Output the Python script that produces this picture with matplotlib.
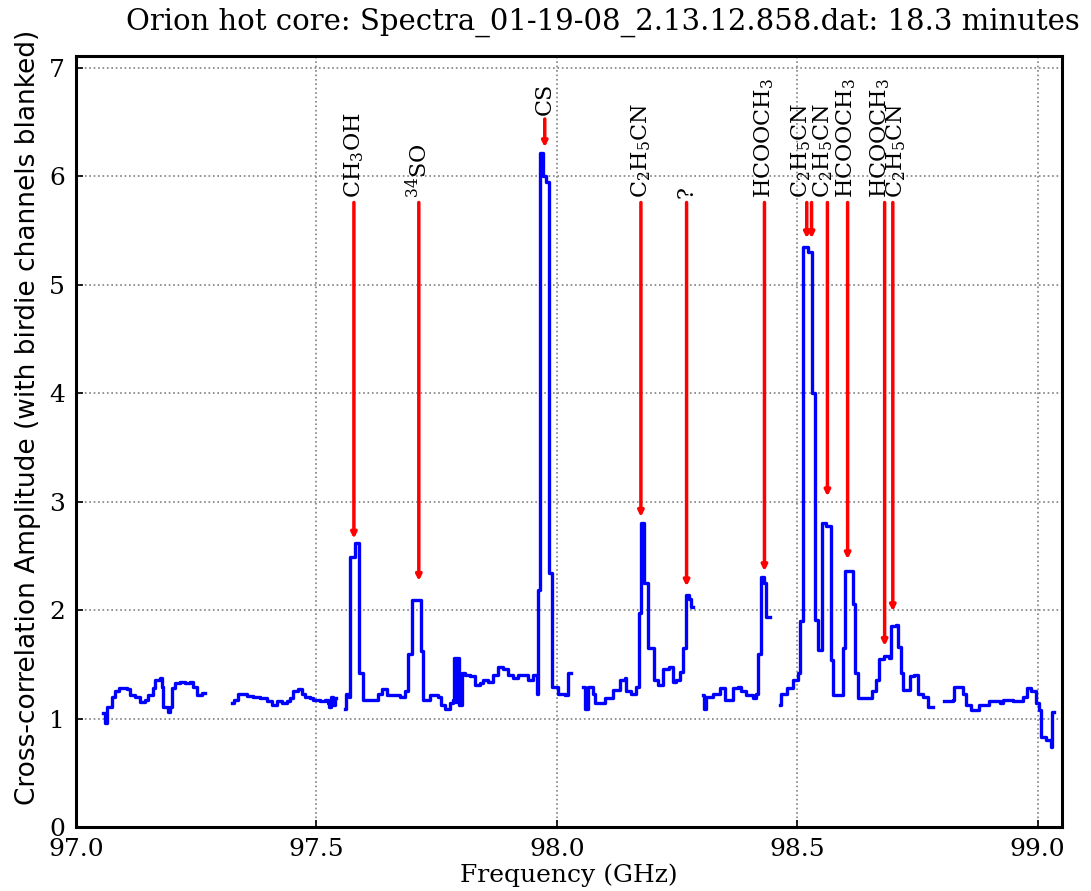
import numpy as np
import matplotlib
matplotlib.use("Agg")
import matplotlib.pyplot as plt

nan = np.nan

# spectrum, stepped: each value holds until the next frequency; nan = blanked channels
freq = [97.057, 97.060, 97.064, 97.075, 97.081, 97.090, 97.105, 97.112, 97.122, 97.133,
        97.143, 97.150, 97.161, 97.165, 97.175, 97.178, 97.181, 97.192, 97.195, 97.199,
        97.206, 97.216, 97.226, 97.237, 97.244, 97.251, 97.261, 97.268,
        97.324, 97.328, 97.337, 97.355, 97.369, 97.383, 97.397, 97.407, 97.418, 97.428,
        97.438, 97.445, 97.452, 97.462, 97.469, 97.476, 97.486, 97.493, 97.507, 97.517,
        97.524, 97.527, 97.531, 97.534, 97.538, 97.541,
        97.559, 97.562, 97.568, 97.570, 97.580, 97.589, 97.597, 97.611, 97.628, 97.636,
        97.646, 97.660, 97.674, 97.684, 97.691, 97.698, 97.717, 97.721, 97.736, 97.753,
        97.760, 97.767, 97.777, 97.784, 97.786, 97.789, 97.791, 97.793, 97.795, 97.797,
        97.802, 97.809, 97.819, 97.829, 97.840, 97.847, 97.857, 97.868, 97.878, 97.888,
        97.899, 97.909, 97.920, 97.930, 97.940, 97.951, 97.958, 97.961, 97.966, 97.972,
        97.978, 97.984, 97.991, 98.003, 98.017, 98.024, 98.030,
        98.055, 98.058, 98.065, 98.075, 98.079, 98.089, 98.100, 98.117, 98.131, 98.141,
        98.145, 98.155, 98.165, 98.172, 98.176, 98.182, 98.189, 98.196, 98.203, 98.210,
        98.221, 98.234, 98.241, 98.249, 98.256, 98.263, 98.268, 98.276, 98.280, 98.283,
        98.304, 98.307, 98.311, 98.325, 98.339, 98.349, 98.359, 98.366, 98.377, 98.384,
        98.394, 98.408, 98.415, 98.418, 98.425, 98.431, 98.436, 98.443,
        98.464, 98.467, 98.478, 98.491, 98.502, 98.506, 98.512, 98.522, 98.530, 98.537,
        98.543, 98.552, 98.560, 98.571, 98.574, 98.581, 98.595, 98.599, 98.608, 98.616,
        98.620, 98.626, 98.651, 98.655, 98.665, 98.671, 98.680, 98.692, 98.696, 98.706,
        98.709, 98.716, 98.720, 98.730, 98.734, 98.744, 98.751, 98.762, 98.772, 98.782,
        98.806, 98.824, 98.827, 98.838, 98.844, 98.851, 98.862, 98.879, 98.900, 98.921,
        98.928, 98.948, 98.969, 98.979, 98.986, 98.997, 99.004, 99.007, 99.018, 99.028,
        99.031, 99.035]
amp = [1.05, 0.96, 1.11, 1.20, 1.25, 1.28, 1.27, 1.22, 1.20, 1.15,
       1.17, 1.22, 1.28, 1.36, 1.37, 1.29, 1.11, 1.06, 1.11, 1.28,
       1.33, 1.34, 1.33, 1.34, 1.29, 1.22, 1.24, nan,
       1.14, 1.17, 1.23, 1.21, 1.20, 1.19, 1.16, 1.13, 1.16, 1.14,
       1.16, 1.19, 1.25, 1.27, 1.23, 1.20, 1.19, 1.17, 1.16, 1.17,
       1.14, 1.11, 1.20, 1.13, 1.19, nan,
       1.09, 1.23, 1.20, 2.49, 2.62, 1.42, 1.17, 1.17, 1.23, 1.27,
       1.22, 1.22, 1.20, 1.25, 1.60, 2.09, 1.62, 1.17, 1.22, 1.20,
       1.13, 1.09, 1.14, 1.17, 1.56, 1.15, 1.56, 1.15, 1.56, 1.13,
       1.42, 1.40, 1.39, 1.31, 1.33, 1.36, 1.34, 1.40, 1.48, 1.46,
       1.40, 1.37, 1.40, 1.40, 1.36, 1.40, 1.23, 2.19, 6.22, 6.00,
       5.95, 2.34, 1.29, 1.23, 1.22, 1.42, nan,
       1.29, 1.09, 1.29, 1.23, 1.14, 1.14, 1.19, 1.26, 1.36, 1.37,
       1.25, 1.23, 1.29, 1.97, 2.80, 2.25, 1.65, 1.65, 1.36, 1.31,
       1.46, 1.48, 1.34, 1.36, 1.43, 1.65, 2.14, 2.10, 2.03, nan,
       1.22, 1.09, 1.20, 1.23, 1.28, 1.17, 1.17, 1.28, 1.29, 1.25,
       1.22, 1.19, 1.23, 1.60, 2.31, 2.25, 1.94, nan,
       1.13, 1.23, 1.28, 1.36, 1.42, 1.90, 5.35, 5.30, 4.00, 1.91,
       1.63, 2.80, 2.78, 1.54, 1.22, 1.22, 1.65, 2.36, 2.36, 2.06,
       1.42, 1.19, 1.19, 1.25, 1.36, 1.55, 1.58, 1.56, 1.85, 1.86,
       1.66, 1.42, 1.26, 1.26, 1.39, 1.40, 1.23, 1.20, 1.11, nan,
       1.16, 1.17, 1.29, 1.29, 1.23, 1.13, 1.08, 1.13, 1.16, 1.14,
       1.17, 1.16, 1.20, 1.28, 1.25, 1.14, 1.08, 0.83, 0.80, 0.74,
       1.06, 1.06]

# arrows marking identified lines: rest frequency (GHz), arrow tip height
line_freq = [97.578, 97.713, 97.975, 98.175, 98.270, 98.432,
             98.520, 98.530, 98.563, 98.605, 98.682, 98.699]
line_tip = [2.66, 2.27, 6.27, 2.86, 2.22, 2.36,
            5.43, 5.43, 3.05, 2.47, 1.67, 1.99]

# labels over the arrows (the close pair near 98.52 shares one label)
label_names = [r"CH$_3$OH", r"$^{34}$SO", "CS", r"C$_2$H$_5$CN", "?", r"HCOOCH$_3$",
               r"C$_2$H$_5$CN", r"C$_2$H$_5$CN", r"HCOOCH$_3$",
               r"HCOOCH$_3$", r"C$_2$H$_5$CN"]
label_freq = [97.578, 97.713, 97.975, 98.175, 98.270, 98.432,
              98.508, 98.554, 98.603, 98.673, 98.706]
label_tip = [2.66, 2.27, 6.27, 2.86, 2.22, 2.36,
             5.43, 3.05, 2.47, 1.67, 1.99]

xticks = [97.0, 97.5, 98.0, 98.5, 99.0]
yticks = [0, 1, 2, 3, 4, 5, 6, 7]

plt.rcParams['mathtext.fontset'] = 'dejavuserif'

fig = plt.figure(figsize=(10.91, 8.91), dpi=100)
ax = fig.add_axes([0.0697, 0.0718, 0.9033, 0.8652])

ax.plot(freq, amp, color='b', lw=2.4, drawstyle='steps-post')

for f, tip in zip(line_freq, line_tip):
    top = max(5.8, tip + 0.3)
    ax.annotate("", xy=(f, tip), xytext=(f, top - 0.04),
                arrowprops=dict(arrowstyle='-|>', color='red', lw=2.5,
                                mutation_scale=8, shrinkA=0, shrinkB=0))

for name, f, tip in zip(label_names, label_freq, label_tip):
    top = max(5.8, tip + 0.3)
    ax.text(f, top, name, rotation=90, ha='center', va='bottom',
            fontsize=16, family='DejaVu Serif')

ax.set_xlim(97.0, 99.05)
ax.set_ylim(0, 7.11)
ax.set_xticks(xticks)
ax.set_xticklabels(["%.1f" % t for t in xticks])
ax.set_yticks(yticks)
ax.grid(True, color='gray', ls=':', lw=1.2)
ax.tick_params(direction='in', length=5, width=1.2, labelsize=18, pad=8)
for lab in ax.get_xticklabels() + ax.get_yticklabels():
    lab.set_family('DejaVu Serif')
for s in ax.spines.values():
    s.set_linewidth(2.2)

ax.set_xlabel("Frequency (GHz)", family='DejaVu Serif', fontsize=18, labelpad=2)
fig.text(0.026, 0.532, "Cross-correlation Amplitude (with birdie channels blanked)",
         rotation=90, ha='center', va='center', fontsize=19, family='DejaVu Sans')
fig.text(0.553, 0.975, "Orion hot core: Spectra_01-19-08_2.13.12.858.dat: 18.3 minutes",
         ha='center', va='center', fontsize=21, family='DejaVu Serif')

fig.savefig("out.png", dpi=100)
